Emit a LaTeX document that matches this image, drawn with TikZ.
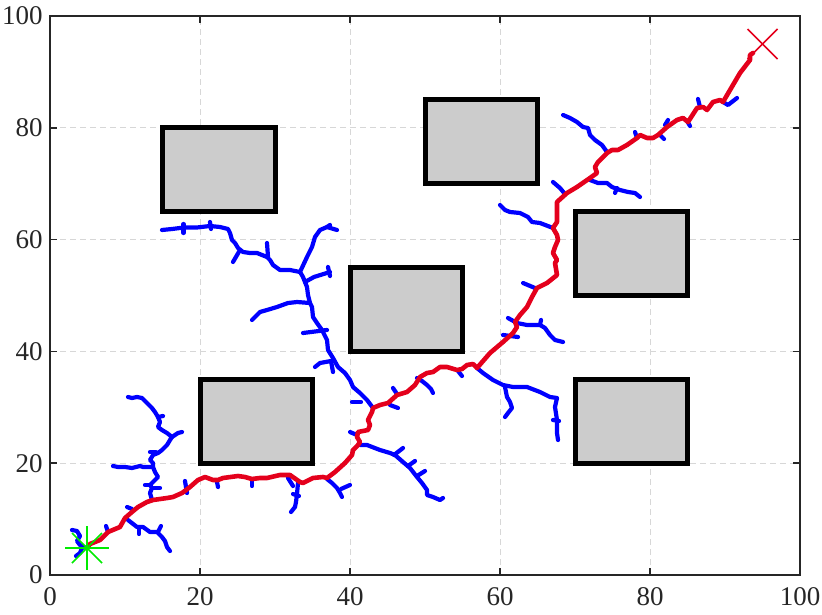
\documentclass[tikz,border=0pt]{standalone}
\usepackage{fontspec}
\setmainfont{Liberation Serif}
\usetikzlibrary{calc}
\definecolor{tblue}{RGB}{0,0,255}
\definecolor{tred}{RGB}{228,0,28}
\definecolor{tgreen}{RGB}{0,235,0}
\definecolor{obsfill}{RGB}{204,204,204}
\definecolor{gridc}{RGB}{215,215,215}
\definecolor{framec}{RGB}{38,38,38}
\tikzset{
  branch/.style={draw=tblue,line width=4.2pt,line cap=round,line join=round},
  route/.style={draw=tred,line width=4.6pt,line cap=round,line join=round},
  obstacle/.style={draw=black,fill=obsfill,line width=5pt},
  gridline/.style={draw=gridc,line width=1pt,dash pattern=on 6pt off 4pt},
  frameline/.style={draw=framec,line width=1.5pt},
  ticklabel/.style={font=\fontsize{27}{30}\selectfont,text=framec,inner sep=0pt}
}
\begin{document}
\begin{tikzpicture}[x=1pt,y=-1pt]
\useasboundingbox (0,0) rectangle (822,615);
% ---------------- data-space scope ----------------
\begin{scope}[shift={(50,575)},x=7.5pt,y=5.59pt]
  \foreach \v in {20,40,60,80}{
    \draw[gridline] (\v,0) -- (\v,100);
    \draw[gridline] (0,\v) -- (100,\v);
  }
  \draw[obstacle] (15,65) rectangle (30,80);
  \draw[obstacle] (50,70) rectangle (65,85);
  \draw[obstacle] (70,50) rectangle (85,65);
  \draw[obstacle] (40,40) rectangle (55,55);
  \draw[obstacle] (20,20) rectangle (35,35);
  \draw[obstacle] (70,20) rectangle (85,35);
  \foreach \v in {0,20,40,60,80,100}{
    \draw[frameline] (\v,0) -- ++(0,1.2);
    \draw[frameline] (\v,100) -- ++(0,-1.2);
    \draw[frameline] (0,\v) -- ++(0.9,0);
    \draw[frameline] (100,\v) -- ++(-0.9,0);
    \node[ticklabel,anchor=east] (yl\v) at (-0.95,\v) {\v};
    \node[ticklabel,anchor=north] (xl\v) at (\v,-2.2) {\v};
  }
  \draw[frameline] (0,0) rectangle (100,100);
\end{scope}
% ---------------- tree (pixel coordinates) ----------------
% near start
\draw[branch] (86,548) -- (80,545) -- (77,541) -- (80,536) -- (77,531) -- (72,530);
\draw[branch] (82,548) -- (80,553) -- (76,556);
\draw[branch] (108,532) -- (106,526);
\draw[branch] (128,520) -- (137,527) -- (143,527) -- (150,532) -- (157,532) -- (162,537) -- (165,541) -- (167,547) -- (170,551);
\draw[branch] (158,532) -- (161,526);
\draw[branch] (139,527) -- (139,534);
\draw[branch] (127,507) -- (132,509);
% left tree
\draw[branch] (152,500) -- (150,493) -- (152,488) -- (150,485) -- (155,480) -- (158,477) -- (155,472) -- (153,467) -- (153,463) -- (150,460) -- (153,455) -- (158,453) -- (162,450) -- (167,445) -- (170,440) -- (172,437) -- (167,433) -- (162,430) -- (158,427) -- (160,422) -- (158,417) -- (155,412) -- (152,408) -- (147,403) -- (142,398) -- (137,397) -- (132,398) -- (128,397);
\draw[branch] (153,467) -- (143,467) -- (140,466) -- (132,468) -- (125,467) -- (118,467) -- (113,466);
\draw[branch] (172,437) -- (178,433) -- (182,432);
\draw[branch] (152,488) -- (160,488);
\draw[branch] (150,485) -- (145,485);
\draw[branch] (150,452) -- (156,452);
\draw[branch] (158,417) -- (163,416);
% stubs along lower red path
\draw[branch] (185,481) -- (187,493);
\draw[branch] (217,482) -- (218,487);
\draw[branch] (252,479) -- (252,486);
\draw[branch] (288,478) -- (293,486);
% branch E, F
\draw[branch] (298,483) -- (297,494) -- (296,502) -- (295,507) -- (291,512);
\draw[branch] (293,494) -- (299,496);
\draw[branch] (327,479) -- (332,483) -- (337,488) -- (340,493) -- (342,497);
\draw[branch] (341,489) -- (350,485);
% big middle tree
\draw[branch] (373,408) -- (367,400) -- (360,393) -- (353,387) -- (350,380) -- (345,373) -- (338,367) -- (333,358) -- (328,350) -- (327,340) -- (322,330) -- (317,323) -- (313,317) -- (312,307) -- (310,303) -- (308,295) -- (307,287) -- (305,282) -- (303,277) -- (300,272) -- (307,257) -- (312,247) -- (315,237) -- (320,230) -- (327,227) -- (330,225);
\draw[branch] (327,227) -- (337,230);
\draw[branch] (352,402) -- (361,402);
\draw[branch] (333,372) -- (331,361) -- (320,363) -- (315,367);
\draw[branch] (303,333) -- (327,330);
\draw[branch] (305,282) -- (314,277) -- (330,272);
\draw[branch] (328,267) -- (330,276);
\draw[branch] (310,303) -- (297,302) -- (288,303) -- (277,307) -- (267,310) -- (260,312) -- (255,317) -- (252,320);
\draw[branch] (300,272) -- (290,270) -- (280,270) -- (273,265) -- (270,260) -- (267,257) -- (257,253) -- (250,253) -- (243,252) -- (238,248) -- (235,243) -- (232,240) -- (230,233) -- (228,229) -- (220,227) -- (210,226) -- (197,227.5) -- (184,227.5) -- (172,229) -- (162,230);
\draw[branch] (267,243) -- (268,257);
\draw[branch] (240,250) -- (233,262);
\draw[branch] (183.5,224) -- (183.5,233);
\draw[branch] (210,222) -- (211,229);
% branch G, H and stubs
\draw[branch] (360,445) -- (367,445) -- (380,450) -- (390,453) -- (395,455) -- (403,462) -- (410,468) -- (417,477) -- (422,483) -- (427,490) -- (427,495) -- (433,497) -- (440,500) -- (443,498);
\draw[branch] (394,455) -- (403,448);
\draw[branch] (408,466) -- (415,461);
\draw[branch] (417,476) -- (425,471);
\draw[branch] (350,432) -- (357,435);
\draw[branch] (417,378) -- (422,381) -- (427,385) -- (431,389) -- (433,393);
\draw[branch] (393,388) -- (397,394);
\draw[branch] (390,405) -- (398,408);
\draw[branch] (458,371) -- (462,376);
% branch I
\draw[branch] (477,368) -- (483,373) -- (493,380) -- (503,385) -- (513,387) -- (527,387) -- (540,392) -- (550,397) -- (557,398) -- (555,407) -- (557,420) -- (557,433) -- (558,440);
\draw[branch] (505,387) -- (507,397) -- (510,402) -- (512,408) -- (508,413) -- (505,417);
\draw[branch] (553,420) -- (559,421);
% branch J, K, L
\draw[branch] (517,323) -- (527,325) -- (540,325) -- (545,328) -- (550,335) -- (555,340) -- (563,342);
\draw[branch] (517,323) -- (508,318);
\draw[branch] (540,325) -- (541,320);
\draw[branch] (503,335) -- (518,337);
\draw[branch] (535,288) -- (523,283);
\draw[branch] (553,228) -- (540,223) -- (532,222) -- (528,217) -- (520,213) -- (510,212) -- (505,210) -- (500,205);
% upper branches
\draw[branch] (590,180) -- (598,183) -- (607,183) -- (612,187) -- (620,190) -- (628,192) -- (635,193) -- (640,197);
\draw[branch] (617,188) -- (615,193);
\draw[branch] (565,194) -- (560,188) -- (553,182);
\draw[branch] (607,152) -- (602,145) -- (595,140) -- (590,135) -- (588,128) -- (583,127) -- (577,122) -- (570,118) -- (563,115);
\draw[branch] (637,138) -- (635,132);
\draw[branch] (660,135) -- (664,139);
\draw[branch] (665,125) -- (668,120);
\draw[branch] (687,121) -- (690,126);
\draw[branch] (698,99) -- (700,107);
\draw[branch] (723,102) -- (728,105) -- (737,98);
% ---------------- red route ----------------
\draw[route] (87,548) -- (90,544) -- (100,540) -- (108,532) -- (120,527) -- (125,518) -- (132,512) -- (138,507) -- (147,502) -- (153,500) -- (167,498) -- (173,497) -- (182,493) -- (190,487) -- (198,480) -- (205,477) -- (213,480) -- (218,480) -- (223,478) -- (238,476) -- (245,477) -- (252,479) -- (260,478) -- (267,478) -- (280,475) -- (290,475) -- (300,482) -- (303,483) -- (313,478) -- (323,477) -- (327,478) -- (335,472) -- (345,463) -- (352,455) -- (353,450) -- (358,445) -- (360,442) -- (357,437) -- (358,432) -- (368,430) -- (370,425) -- (368,420) -- (372,412) -- (373,408) -- (380,405) -- (388,403) -- (397,395) -- (407,392) -- (415,385) -- (420,377) -- (427,373) -- (433,372) -- (440,367) -- (447,367) -- (457,370) -- (462,369) -- (467,365) -- (473,364) -- (477,368) -- (490,353) -- (503,342) -- (513,333) -- (517,327) -- (515,322) -- (520,315) -- (527,307) -- (532,297) -- (537,288) -- (547,283) -- (557,275) -- (555,263) -- (557,260) -- (553,253) -- (555,247) -- (558,240) -- (557,235) -- (553,228) -- (557,222) -- (557,202) -- (567,193) -- (577,187) -- (590,178) -- (597,173) -- (595,167) -- (598,162) -- (607,153) -- (612,150) -- (618,150) -- (627,145) -- (637,138) -- (640,135) -- (647,138) -- (653,138) -- (658,135) -- (667,127) -- (677,120) -- (683,118) -- (688,122) -- (697,108) -- (703,107) -- (707,110) -- (713,102) -- (720,100) -- (723,102) -- (740,73) -- (750,60) -- (750,55) -- (753,53);
% ---------------- start and goal markers ----------------
\coordinate (start) at (87,548);
\coordinate (goal) at (762.5,44);
\draw[tgreen,line width=1.5pt] ($(start)+(-22,0)$) -- ($(start)+(22,0)$);
\draw[tgreen,line width=1.5pt] ($(start)+(0,-22)$) -- ($(start)+(0,22)$);
\draw[tgreen,line width=1.5pt] ($(start)+(-15,-15)$) -- ($(start)+(15,15)$);
\draw[tgreen,line width=1.5pt] ($(start)+(-15,15)$) -- ($(start)+(15,-15)$);
\draw[tred,line width=1.5pt] ($(goal)+(-15,-15)$) -- ($(goal)+(15,15)$);
\draw[tred,line width=1.5pt] ($(goal)+(-15,15)$) -- ($(goal)+(15,-15)$);
\end{tikzpicture}
\end{document}
